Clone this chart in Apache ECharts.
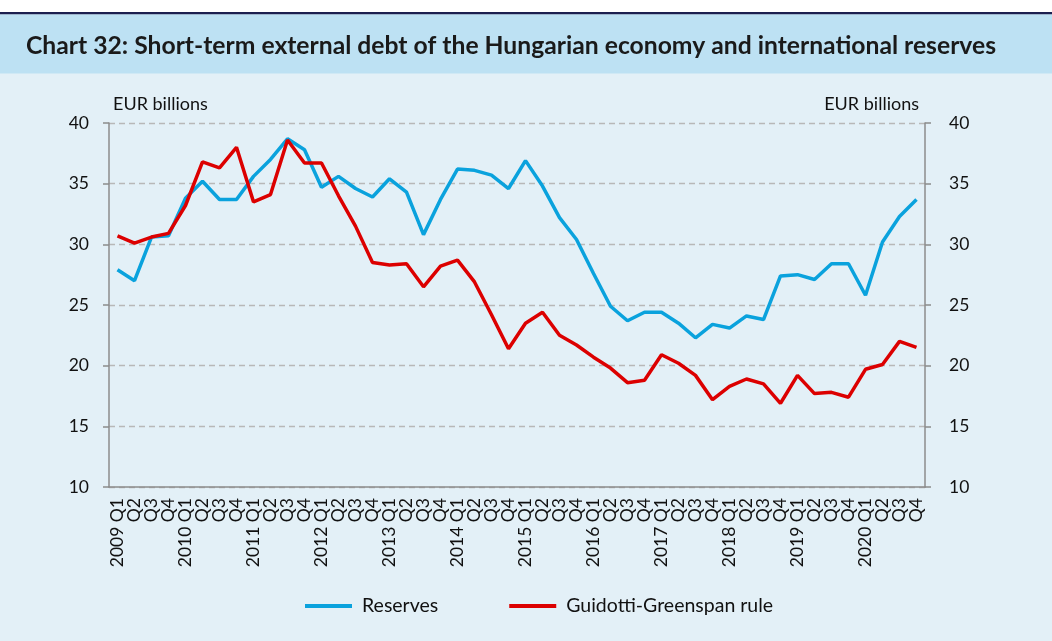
<!DOCTYPE html>
<html>
<head>
<meta charset="utf-8">
<script src="https://cdn.jsdelivr.net/npm/echarts@6/dist/echarts.min.js"></script>
<style>
  html, body { margin: 0; padding: 0; background: #fff; }
  #chart { width: 1052px; height: 641px; }
</style>
</head>
<body>
<div id="chart"></div>
<script>
  'use strict'

  // quarters 2009 Q1 .. 2020 Q4
  var years = ['2009', '2010', '2011', '2012', '2013', '2014', '2015', '2016', '2017', '2018', '2019', '2020'];
  var quarters = ['Q1', 'Q2', 'Q3', 'Q4'];
  var categories = [];
  years.forEach(function (y) {
    quarters.forEach(function (q) { categories.push(y + ' ' + q); });
  });

  var reserves = [
    27.9, 27.0, 30.6, 30.7, 33.8, 35.2, 33.7, 33.7,
    35.6, 37.0, 38.7, 37.8, 34.7, 35.6, 34.6, 33.9,
    35.4, 34.3, 30.8, 33.7, 36.2, 36.1, 35.7, 34.6,
    36.9, 34.8, 32.2, 30.4, 27.6, 24.9, 23.7, 24.4,
    24.4, 23.5, 22.3, 23.4, 23.1, 24.1, 23.8, 27.4,
    27.5, 27.1, 28.4, 28.4, 25.8, 30.2, 32.3, 33.7
  ];

  var ggRule = [
    30.7, 30.1, 30.6, 30.9, 33.2, 36.8, 36.3, 38.0,
    33.5, 34.1, 38.6, 36.7, 36.7, 34.0, 31.5, 28.5,
    28.3, 28.4, 26.5, 28.2, 28.7, 26.9, 24.2, 21.4,
    23.5, 24.4, 22.5, 21.7, 20.7, 19.8, 18.6, 18.8,
    20.9, 20.2, 19.2, 17.2, 18.3, 18.9, 18.5, 16.9,
    19.2, 17.7, 17.8, 17.4, 19.7, 20.1, 22.0, 21.5
  ];

  var yMin = 10, yMax = 40, yStep = 5;

  var font = 'Lato';
  var chart = echarts.init(document.getElementById('chart'));

  var yAxisBase = {
    type: 'value',
    min: yMin,
    max: yMax,
    interval: yStep,
    name: 'EUR billions',
    nameLocation: 'end',
    nameGap: 10,
    axisLine: { show: true, lineStyle: { color: '#8c8c8c', width: 1.5 } },
    axisTick: { show: true, length: 6, lineStyle: { color: '#8c8c8c', width: 1.5 } },
    axisLabel: { fontFamily: font, fontSize: 17.5, color: '#111' },
    splitLine: { show: true, lineStyle: { color: '#b8b8b8', type: [6, 4], width: 1.3 } }
  };

  var option = {
    backgroundColor: '#e3f0f7',
    animation: false,
    textStyle: { fontFamily: font },
    graphic: [
      { type: 'rect', shape: { x: 0, y: 0, width: 1052, height: 12 }, style: { fill: '#ffffff' }, z: -10 },
      { type: 'rect', shape: { x: 0, y: 12, width: 1052, height: 2.5 }, style: { fill: '#1b1f4f' }, z: -10 },
      { type: 'rect', shape: { x: 0, y: 14.5, width: 1052, height: 59 }, style: { fill: '#bde1f3' }, z: -10 }
    ],
    title: {
      text: 'Chart 32: Short-term external debt of the Hungarian economy and international reserves',
      left: 21,
      top: 29,
      textStyle: { fontFamily: font, fontWeight: 'bold', fontSize: 24.7, color: '#1a1a1a' }
    },
    grid: { left: 109, right: 127, top: 123, bottom: 154 },
    legend: {
      bottom: 20,
      left: 300,
      icon: 'rect',
      itemWidth: 47,
      itemHeight: 4,
      itemGap: 71,
      textStyle: { fontFamily: font, fontSize: 19.5, color: '#111', padding: [0, 0, 0, 5] },
      data: ['Reserves', 'Guidotti-Greenspan rule']
    },
    xAxis: {
      type: 'category',
      data: categories,
      boundaryGap: true,
      axisLine: { lineStyle: { color: '#8c8c8c', width: 1.5 } },
      axisTick: { show: false },
      axisLabel: {
        interval: 0,
        rotate: 90,
        margin: 11,
        fontFamily: font,
        fontSize: 17.5,
        color: '#111',
        formatter: function (v) {
          var p = v.split(' ');
          return p[1] === 'Q1' ? v : p[1];
        }
      }
    },
    yAxis: [
      Object.assign({}, yAxisBase, {
        position: 'left',
        nameTextStyle: { fontFamily: font, fontSize: 18, color: '#111', align: 'left', padding: [0, 0, 0, 4] },
        axisLabel: Object.assign({}, yAxisBase.axisLabel, { margin: 20 })
      }),
      Object.assign({}, yAxisBase, {
        position: 'right',
        splitLine: { show: false },
        nameTextStyle: { fontFamily: font, fontSize: 18, color: '#111', align: 'right', padding: [0, 6, 0, 0] },
        axisLabel: Object.assign({}, yAxisBase.axisLabel, { margin: 24 })
      })
    ],
    series: [
      {
        name: 'Reserves',
        type: 'line',
        data: reserves,
        symbol: 'none',
        lineStyle: { width: 3.5, color: '#0aa2dd' },
        itemStyle: { color: '#0aa2dd' }
      },
      {
        name: 'Guidotti-Greenspan rule',
        type: 'line',
        data: ggRule,
        symbol: 'none',
        lineStyle: { width: 3.5, color: '#dc0000' },
        itemStyle: { color: '#dc0000' }
      }
    ]
  };

  chart.setOption(option);
  window.addEventListener('resize', function () {
    chart.resize();
  });
</script>
</body>
</html>
